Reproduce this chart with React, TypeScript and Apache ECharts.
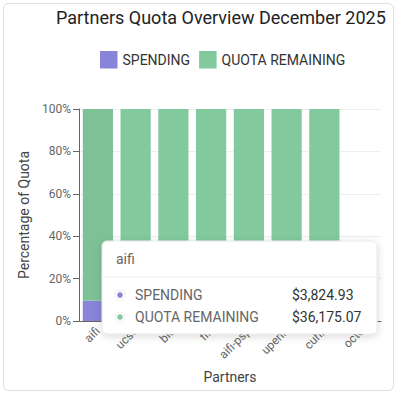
import React, { useEffect, useRef } from "react";
import * as echarts from "echarts";

const partners = ["aifi", "ucsc", "bio", "fin", "aifi-psp", "upenn", "cuhk", "octo"];
const spendingPct = [9.56, 0, 0, 0, 0, 0, 0, 0];
const remainingPct = [90.44, 100, 100, 100, 100, 100, 100, 0];
const yTicks = [0, 20, 40, 60, 80, 100];

const tipPartner = "aifi";
const tipLabels = ["SPENDING", "QUOTA REMAINING"];
const tipValues = [3824.93, 36175.07];

const PURPLE = "#8884d8";
const GREEN = "#82ca9d";
const FONT = "Roboto";

const fmtUsd = (v: number) =>
  "$" + v.toLocaleString("en-US", { minimumFractionDigits: 2, maximumFractionDigits: 2 });

export default function App() {
  const ref = useRef<HTMLDivElement>(null);
  useEffect(() => {
    if (!ref.current) return;
    const chart = echarts.init(ref.current, undefined, { renderer: "svg" });
    const tipX = 102;
    const tipY = 241;
    const tipW = 275;
    const tipH = 93;
    const tipColors = [PURPLE, GREEN];
    const tipRows: any[] = [];
    tipLabels.forEach((lab, i) => {
      const cy = tipY + 54 + i * 22;
      tipRows.push(
        {
          type: "circle",
          shape: { cx: tipX + 18, cy, r: 3.5 },
          style: { fill: tipColors[i], stroke: "#fff", lineWidth: 1.5, shadowBlur: 2, shadowColor: "rgba(0,0,0,0.25)" },
          z: 101,
        },
        {
          type: "text",
          x: tipX + 33,
          y: cy,
          style: { text: lab, fill: "#666", font: `14px ${FONT}`, textVerticalAlign: "middle", textAlign: "left" },
          z: 101,
        },
        {
          type: "text",
          x: tipX + 190,
          y: cy,
          style: { text: fmtUsd(tipValues[i]), fill: "#333", font: `14px ${FONT}`, textVerticalAlign: "middle", textAlign: "left" },
          z: 101,
        }
      );
    });

    chart.setOption({
      animation: false,
      textStyle: { fontFamily: FONT },
      title: {
        text: "Partners Quota Overview December 2025",
        left: 56,
        top: 8,
        padding: 0,
        textStyle: { fontSize: 18, fontWeight: "normal", color: "#222", fontFamily: FONT },
      },
      legend: {
        left: 100,
        top: 51,
        padding: 0,
        icon: "rect",
        itemWidth: 17.5,
        itemHeight: 17.5,
        itemGap: 9,
        textStyle: { fontSize: 14, color: "#333", fontFamily: FONT },
        data: ["SPENDING", "QUOTA REMAINING"],
      },
      grid: { left: 79, right: 17, top: 109, bottom: 74, containLabel: false },
      xAxis: {
        type: "category",
        data: partners,
        name: "Partners",
        nameLocation: "middle",
        nameGap: 49,
        nameTextStyle: { fontSize: 14, color: "#444", fontFamily: FONT },
        axisLine: { lineStyle: { color: "#666" } },
        axisTick: { alignWithLabel: true, length: 6, lineStyle: { color: "#666" } },
        axisLabel: { rotate: 45, fontSize: 12, color: "#666", margin: 8, interval: 0, fontFamily: FONT },
      },
      yAxis: {
        type: "value",
        min: yTicks[0],
        max: yTicks[yTicks.length - 1],
        interval: yTicks[1] - yTicks[0],
        name: "Percentage of Quota",
        nameLocation: "middle",
        nameGap: 45,
        nameRotate: 90,
        nameTextStyle: { fontSize: 14, color: "#444", fontFamily: FONT },
        axisLine: { show: true, lineStyle: { color: "#666" } },
        axisTick: { show: true, length: 6, lineStyle: { color: "#666" } },
        axisLabel: { formatter: "{value}%", fontSize: 12, color: "#666", margin: 8, fontFamily: FONT },
        splitLine: { lineStyle: { color: "#eeeeee" } },
      },
      series: [
        {
          name: "SPENDING",
          type: "bar",
          stack: "q",
          barCategoryGap: "20%",
          data: spendingPct,
          itemStyle: { color: PURPLE },
        },
        {
          name: "QUOTA REMAINING",
          type: "bar",
          stack: "q",
          barCategoryGap: "20%",
          data: remainingPct.map((v, i) => (i === 0 ? { value: v, itemStyle: { color: "#7ec197" } } : v)),
          itemStyle: { color: GREEN },
        },
      ],
      graphic: [
        {
          type: "rect",
          shape: { x: 3.5, y: 3.5, width: 390, height: 387, r: 5 },
          style: { fill: "none", stroke: "#dddddd", lineWidth: 1 },
          z: -10,
          silent: true,
        },
        {
          type: "rect",
          shape: { x: tipX, y: tipY, width: tipW, height: tipH, r: 5 },
          style: { fill: "#ffffff", stroke: "#e8e8e8", lineWidth: 1, shadowBlur: 8, shadowColor: "rgba(0,0,0,0.15)", shadowOffsetY: 2 },
          z: 100,
        },
        {
          type: "line",
          shape: { x1: tipX, y1: tipY + 36, x2: tipX + tipW, y2: tipY + 36 },
          style: { stroke: "#eeeeee", lineWidth: 1 },
          z: 101,
        },
        {
          type: "text",
          x: tipX + 14,
          y: tipY + 18,
          style: { text: tipPartner, fill: "#666", font: `14px ${FONT}`, textVerticalAlign: "middle" },
          z: 101,
        },
        ...tipRows,
      ],
    });
    return () => chart.dispose();
  }, []);
  return (
    <div
      ref={ref}
      style={{ position: "fixed", left: 0, top: 0, width: 398, height: 395, background: "#fff" }}
    />
  );
}
